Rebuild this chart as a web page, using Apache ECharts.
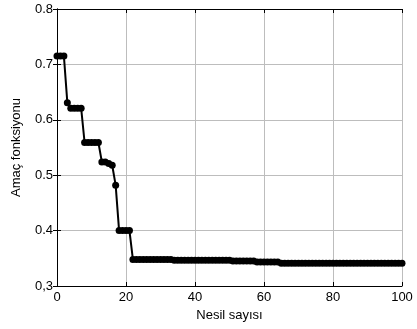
<!DOCTYPE html>
<html>
<head>
<meta charset="utf-8">
<script src="https://cdn.jsdelivr.net/npm/echarts@6/dist/echarts.min.js"></script>
<style>
  html, body { margin: 0; padding: 0; background: #fff; }
  #chart { width: 417px; height: 329px; }
</style>
</head>
<body>
<div id="chart"></div>
<script>
// best objective value per generation
const generations = Array.from({ length: 101 }, (_, i) => i);
const fitness = [
  0.715, 0.715, 0.715, 0.631, 0.621, 0.621, 0.621, 0.621, 0.559, 0.559,
  0.559, 0.559, 0.559, 0.524, 0.524, 0.521, 0.518, 0.482, 0.400, 0.400,
  0.400, 0.400, 0.348, 0.348, 0.348, 0.348, 0.348, 0.348, 0.348, 0.348,
  0.348, 0.348, 0.348, 0.348, 0.3465, 0.3465, 0.3465, 0.3465, 0.3465, 0.3465,
  0.3465, 0.3465, 0.3465, 0.3465, 0.3465, 0.3465, 0.3465, 0.3465, 0.3465, 0.3465,
  0.3465, 0.345, 0.345, 0.345, 0.345, 0.345, 0.345, 0.345, 0.3435, 0.3435,
  0.3435, 0.3435, 0.3435, 0.3435, 0.3435, 0.341, 0.341, 0.341, 0.341, 0.341,
  0.341, 0.341, 0.341, 0.341, 0.341, 0.341, 0.341, 0.341, 0.341, 0.341,
  0.341, 0.341, 0.341, 0.341, 0.341, 0.341, 0.341, 0.341, 0.341, 0.341,
  0.341, 0.341, 0.341, 0.341, 0.341, 0.341, 0.341, 0.341, 0.341, 0.341,
  0.341
];
const xTicks = [0, 20, 40, 60, 80, 100];
const yTickLabels = ["0,3", "0.4", "0.5", "0.6", "0.7", "0.8"];

const FONT = "Liberation Sans, Arial, sans-serif";
const chart = echarts.init(document.getElementById("chart"));

const boxAxis = {
  axisLine: { show: true, lineStyle: { color: "#000", width: 1 } },
  axisTick: { show: true, inside: true, length: 4, lineStyle: { color: "#000" } },
  splitLine: { show: false },
  axisLabel: { show: false },
};

chart.setOption({
  animation: false,
  backgroundColor: "#fff",
  grid: { left: 57, right: 15, top: 9, bottom: 43, containLabel: false },
  xAxis: [
    {
      type: "value", min: 0, max: 100, interval: 20,
      name: "Nesil sayısı", nameLocation: "middle", nameGap: 19,
      nameTextStyle: { fontFamily: FONT, fontSize: 13, color: "#000" },
      axisLine: { lineStyle: { color: "#000", width: 1 } },
      axisTick: { inside: true, length: 4, lineStyle: { color: "#000" } },
      axisLabel: {
        margin: 5, fontFamily: FONT, fontSize: 13, color: "#000",
        formatter: v => xTicks.includes(v) ? String(v) : "",
      },
      splitLine: { show: true, lineStyle: { color: "#bdbdbd", width: 1 } },
    },
    Object.assign({ type: "value", position: "top", min: 0, max: 100, interval: 20 }, boxAxis),
  ],
  yAxis: [
    {
      type: "value", min: 0.3, max: 0.8, interval: 0.1,
      name: "Amaç fonksiyonu", nameLocation: "middle", nameGap: 34,
      nameTextStyle: { fontFamily: FONT, fontSize: 13, color: "#000" },
      axisLine: { show: true, lineStyle: { color: "#000", width: 1 } },
      axisTick: { show: true, inside: true, length: 4, lineStyle: { color: "#000" } },
      axisLabel: {
        margin: 4, fontFamily: FONT, fontSize: 13, color: "#000",
        formatter: v => yTickLabels[Math.round((v - 0.3) * 10)] ?? "",
      },
      splitLine: { show: true, lineStyle: { color: "#bdbdbd", width: 1 } },
    },
    Object.assign({ type: "value", position: "right", min: 0.3, max: 0.8, interval: 0.1 }, boxAxis),
  ],
  series: [{
    type: "line",
    data: generations.map((g, i) => [g, fitness[i]]),
    symbol: "circle",
    symbolSize: 7,
    showAllSymbol: true,
    clip: false,
    lineStyle: { color: "#000", width: 2 },
    itemStyle: { color: "#000", borderWidth: 0 },
  }],
});
</script>
</body>
</html>
